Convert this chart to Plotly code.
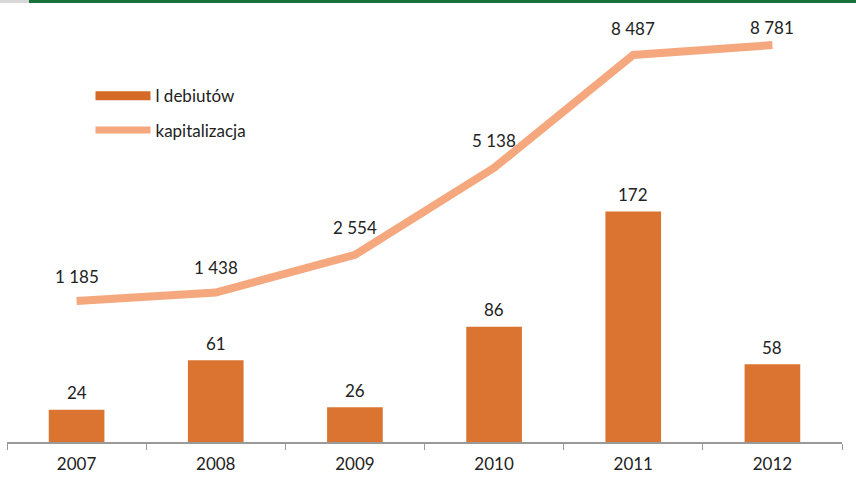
import plotly.graph_objects as go

years = ["2007", "2008", "2009", "2010", "2011", "2012"]
debiuty = [24, 61, 26, 86, 172, 58]
kapitalizacja = [1185, 1438, 2554, 5138, 8487, 8781]
kap_labels = ["1 185", "1 438", "2 554", "5 138", "8 487", "8 781"]
kap_shift = [25, 25, 27, 27, 27, 18]

BAR = "#DB7430"
LINE = "#F5A77E"
FONT = "Lato"
FS = 17

fig = go.Figure()
fig.add_trace(go.Bar(x=years, y=debiuty, width=0.4, marker=dict(color=BAR, line=dict(width=0)),
                     showlegend=False, yaxis="y"))
fig.add_trace(go.Scatter(x=years, y=kapitalizacja, mode="lines", line=dict(color=LINE, width=8),
                         showlegend=False, yaxis="y2"))
# legend entries
fig.add_trace(go.Scatter(x=[None], y=[None], mode="lines", name="l debiutów", legendgroup="a",
                         line=dict(color="#D46A26", width=9)))
fig.add_trace(go.Scatter(x=[None], y=[None], mode="lines", name="kapitalizacja", legendgroup="b",
                         line=dict(color=LINE, width=7)))

annotations = []
for i, v in enumerate(debiuty):
    annotations.append(dict(x=i, y=v, xref="x", yref="y", text=str(v), showarrow=False,
                            yshift=17, font=dict(size=FS, color="#222", family=FONT)))
for i, (v, t, s) in enumerate(zip(kapitalizacja, kap_labels, kap_shift)):
    annotations.append(dict(x=i, y=v, xref="x", yref="y2", text=t, showarrow=False,
                            yshift=s, font=dict(size=FS, color="#222", family=FONT)))

fig.update_layout(
    width=856, height=480,
    margin=dict(l=7, r=14, t=0, b=38),
    paper_bgcolor="white", plot_bgcolor="white",
    font=dict(family=FONT, size=FS, color="#222"),
    bargap=0.6,
    xaxis=dict(type="category", range=[-0.5, len(years) - 0.5], showgrid=False,
               showline=True, linecolor="#999", linewidth=1.5,
               ticks="outside", tickson="boundaries", ticklen=6, tickcolor="#999",
               ticklabelstandoff=6,
               tickfont=dict(size=FS, color="#222", family=FONT)),
    yaxis=dict(range=[0, 330], visible=False, showgrid=False),
    yaxis2=dict(range=[-3000, 10120], overlaying="y", visible=False, showgrid=False),
    legend=dict(x=0.1, y=0.823, xanchor="left", yanchor="top", bgcolor="rgba(0,0,0,0)",
                font=dict(size=FS, family=FONT, color="#222"), itemwidth=55,
                tracegroupgap=9),
    annotations=annotations,
    shapes=[
        dict(type="rect", xref="paper", yref="paper", x0=(29 - 7) / 835, x1=1.02,
             y0=0.993, y1=1.0, fillcolor="#17703A", line=dict(width=0), layer="above"),
        dict(type="rect", xref="paper", yref="paper", x0=-0.01, x1=(29 - 7) / 835,
             y0=0.993, y1=1.0, fillcolor="#D8D8D8", line=dict(width=0), layer="above"),
    ],
)

fig.write_html("out.html")
